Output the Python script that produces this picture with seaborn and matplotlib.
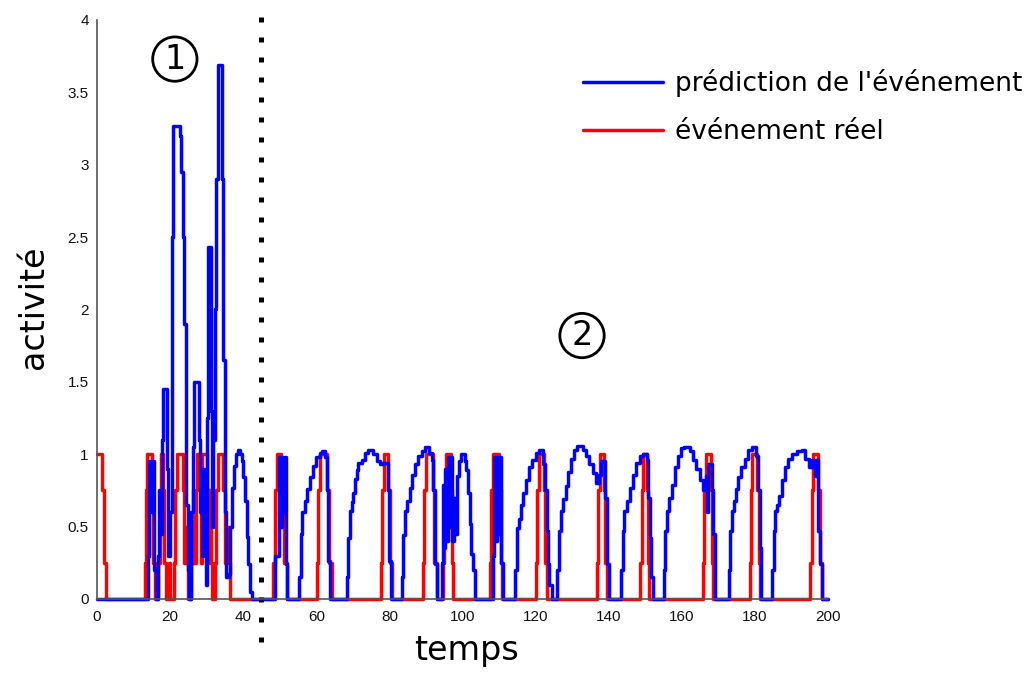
import matplotlib
matplotlib.use("Agg")
import matplotlib.pyplot as plt
import seaborn as sns

# Données (signal en escalier, temps / activité)
blue_t = [0, 14.0, 14.3, 15.0, 15.3, 15.7, 16.1,
          16.7, 17.0, 17.4, 17.7, 18.1, 19.2, 19.5, 20.0, 20.4, 20.8, 22.7, 23.0, 23.5, 23.9, 24.3, 24.9, 25.3,
          25.8, 26.2, 26.6, 27.9, 28.3, 28.7, 29.0, 29.3, 29.7, 30.0, 30.3, 31.1, 31.4, 31.8, 32.2, 32.6, 33.0,
          34.2, 34.5, 34.9, 35.3,
          36.0, 36.5, 37.0, 37.5, 38.0, 38.5, 39.2, 39.6, 40.0, 40.5, 41.0, 41.4, 41.9, 42.3,
          48.7, 49.8, 50.3, 50.6, 51.0, 51.3, 51.6, 52.1,
          55.3, 55.7, 56.2, 56.8, 57.5, 58.3, 59.1, 60.0, 60.9, 61.6, 62.5, 63.0, 63.3, 63.7,
          68.3, 68.8, 69.2, 69.7, 70.1, 70.6, 71.1, 71.5, 72.4, 73.3, 74.2, 75.6, 76.5, 77.4, 78.3, 79.5, 79.9, 80.4,
          83.4, 83.7, 84.2, 84.8, 85.5, 86.1, 87.0, 87.9, 88.8, 89.8, 90.9, 91.6, 92.0, 92.4, 92.9,
          94.4, 94.7, 95.0, 95.3, 95.6, 95.9, 96.4, 96.7, 97.2, 97.6, 98.0, 98.4, 99.0, 99.6, 100.6, 101.0,
          101.5, 102.0, 102.4, 102.9, 103.4,
          108.3, 108.7, 109.1, 109.4, 109.8, 110.1, 110.6, 111.2,
          114.4, 114.9, 115.4, 116.0, 116.6, 117.3, 118.2, 119.1, 120.0, 120.9, 122.1, 122.5, 123.0, 123.4, 123.8, 124.4,
          125.9, 126.3, 126.9, 127.5, 128.2, 128.9, 129.6, 130.4, 131.3, 132.9, 133.8, 134.7, 135.6, 136.5, 137.3,
          137.8, 139.1, 139.5, 140.0,
          143.3, 143.8, 144.3, 145.0, 145.8, 146.7, 147.6, 148.5, 149.4, 150.4, 150.8, 151.2, 151.7, 152.2,
          155.0, 155.4, 156.0, 156.6, 157.3, 158.1, 159.0, 159.9, 160.6, 162.2, 163.1, 164.0, 164.9, 165.8, 166.6,
          167.0, 167.3, 168.2, 168.6, 169.1,
          172.8, 173.2, 173.6, 174.2, 174.9, 175.5, 176.3, 177.3, 178.2, 179.2, 180.2, 180.9, 181.3, 181.7,
          184.8, 185.1, 185.5, 186.1, 186.7, 187.4, 188.2, 189.1, 190.2, 191.6, 192.8, 193.8, 194.8, 195.6, 196.4,
          196.8, 197.4, 197.9, 198.4, 200]
blue_v = [0, 0.3, 0.95, 0.6, 0.95, 0.2, 0,
          0.3, 0.75, 0.45, 1.1, 1.45, 0.9, 0.3, 0.6, 2.5, 3.27, 3.2, 2.95, 2.5, 1.9, 0.65, 0.2, 0,
          0.6, 1.05, 1.5, 1.1, 0.6, 0.3, 0.9, 0.4, 0.1, 1.25, 2.43, 1.3, 0.5, 1.1, 2.0, 2.9, 3.69,
          2.9, 1.65, 0.6, 0.15,
          0.17, 0.5, 0.77, 0.92, 1.0, 1.03, 1.0, 0.95, 0.84, 0.68, 0.43, 0.24, 0.05, 0,
          0.3, 0.98, 0.5, 0.98, 0.6, 0.98, 0.24, 0,
          0.15, 0.45, 0.6, 0.68, 0.76, 0.84, 0.92, 0.98, 1.01, 1.02, 0.98, 0.75, 0.26, 0,
          0.15, 0.42, 0.61, 0.67, 0.73, 0.83, 0.89, 0.94, 0.96, 1.01, 1.03, 1.0, 0.95, 0.93, 0.94, 0.75, 0.26, 0,
          0.15, 0.44, 0.61, 0.68, 0.77, 0.86, 0.93, 0.99, 1.02, 1.05, 1.01, 0.96, 0.75, 0.24, 0,
          0.25, 0.79, 0.35, 0.9, 0.4, 0.98, 0.5, 0.98, 0.4, 0.7, 0.45, 0.85, 0.95, 1.0, 0.95, 0.89,
          0.73, 0.52, 0.31, 0.2, 0,
          0.3, 0.98, 0.4, 0.98, 0.45, 0.98, 0.25, 0,
          0.2, 0.49, 0.55, 0.65, 0.73, 0.82, 0.91, 0.96, 1.01, 1.03, 0.93, 0.75, 0.47, 0.24, 0.1, 0,
          0.2, 0.47, 0.61, 0.69, 0.78, 0.88, 0.97, 1.03, 1.06, 1.03, 0.99, 0.93, 0.87, 0.8, 0.86,
          0.95, 0.7, 0.24, 0,
          0.2, 0.47, 0.61, 0.68, 0.77, 0.86, 0.94, 0.99, 1.0, 0.96, 0.7, 0.42, 0.15, 0,
          0.2, 0.47, 0.61, 0.7, 0.79, 0.91, 0.99, 1.04, 1.05, 1.02, 0.96, 0.9, 0.82, 0.75, 0.85,
          0.6, 0.93, 0.75, 0.45, 0,
          0.2, 0.47, 0.61, 0.68, 0.76, 0.84, 0.91, 0.97, 1.03, 1.05, 0.99, 0.75, 0.35, 0,
          0.2, 0.47, 0.61, 0.65, 0.71, 0.82, 0.91, 0.97, 1.0, 1.02, 1.03, 0.97, 0.91, 0.96, 0.85,
          0.96, 0.47, 0.24, 0, 0]

red_t = [0, 1.4, 1.9, 2.4,
         13.0, 13.3, 13.6, 15.0, 15.3, 15.8,
         16.8, 17.1, 17.4, 18.1, 18.4, 18.8,
         19.6, 20.0,
         21.0, 21.4, 21.8, 23.4, 23.8, 24.3, 24.7, 25.0,
         25.8, 26.2, 26.6, 27.0, 27.3, 28.2, 28.5, 28.8, 30.0, 30.3, 30.7, 31.1, 31.5,
         32.2, 32.6, 33.0, 34.5, 35.0, 35.6, 36.0, 36.4,
         48.2, 48.7, 49.2, 50.3, 51.2, 52.0,
         60.1, 60.6, 61.0, 62.8, 63.5, 64.3,
         77.7, 78.0, 78.4, 79.6, 80.1, 80.6,
         89.2, 89.6, 90.0, 91.8, 92.3, 92.9,
         94.7, 95.0, 95.4, 96.8, 97.1, 97.4,
         107.5, 107.9, 108.3, 110.0, 110.5, 110.9,
         120.1, 120.4, 120.9, 122.3, 122.7, 123.1,
         136.7, 137.1, 137.5, 138.6, 139.0, 139.4,
         148.6, 149.0, 149.5, 150.4, 150.7, 151.0,
         165.8, 166.2, 166.6, 168.0, 168.3, 168.6,
         178.7, 179.0, 179.3, 180.6, 181.0, 181.4,
         195.1, 195.6, 196.0, 197.4, 197.8, 198.3,
         200]
red_v = [1, 0.75, 0.25, 0,
         0.25, 0.75, 1, 0.75, 0.25, 0,
         0.25, 0.75, 1, 0.75, 0.25, 0,
         0.25, 0,
         0.25, 0.75, 1, 0.75, 0.25, 0.5, 0.25, 0,
         0.25, 0.75, 0.25, 0.75, 1, 0.75, 0.25, 1, 0.75, 0.25, 0.75, 0.25, 0,
         0.25, 0.75, 1, 0.75, 0.25, 0.5, 0.25, 0,
         0.25, 0.75, 1, 0.75, 0.25, 0,
         0.25, 0.75, 1, 0.75, 0.25, 0,
         0.25, 0.75, 1, 0.75, 0.25, 0,
         0.25, 0.75, 1, 0.75, 0.25, 0,
         0.25, 0.75, 1, 0.75, 0.25, 0,
         0.25, 0.75, 1, 0.75, 0.25, 0,
         0.25, 0.75, 1, 0.75, 0.25, 0,
         0.25, 0.75, 1, 0.75, 0.25, 0,
         0.25, 0.75, 1, 0.75, 0.25, 0,
         0.25, 0.75, 1, 0.75, 0.25, 0,
         0.25, 0.75, 1, 0.75, 0.25, 0,
         0.25, 0.75, 1, 0.75, 0.25, 0,
         0]

x_ticks = [0, 20, 40, 60, 80, 100, 120, 140, 160, 180, 200]
y_ticks = [0, 0.5, 1, 1.5, 2, 2.5, 3, 3.5, 4]
y_ticklabels = ["0", "0.5", "1", "1.5", "2", "2.5", "3", "3.5", "4"]

label_pred = "prédiction de l'événement"
label_reel = "événement réel"
t_separation = 44.9

sns.set_style("white")
plt.rcParams['font.family'] = ['DejaVu Sans']
plt.rcParams['text.color'] = 'black'
plt.rcParams['axes.labelcolor'] = 'black'

fig = plt.figure(figsize=(10.34, 6.73), dpi=100)
ax = fig.add_axes([97 / 1034, 74 / 673, 731 / 1034, 579 / 673])

sns.lineplot(x=red_t, y=red_v, drawstyle='steps-post', estimator=None, sort=False,
             color='#ff0000', lw=2.5, label=label_reel, ax=ax)
sns.lineplot(x=blue_t, y=blue_v, drawstyle='steps-post', estimator=None, sort=False,
             color='#0000ff', lw=2.5, label=label_pred, ax=ax)
for line in ax.lines:
    line.set_clip_on(False)

ax.set_xlim(0, 200)
ax.set_ylim(0, 4)
ax.set_xticks(x_ticks)
ax.set_yticks(y_ticks)
ax.set_yticklabels(y_ticklabels)
tick_font = ['Liberation Sans Narrow', 'Liberation Sans', 'DejaVu Sans']
for lab in ax.get_xticklabels() + ax.get_yticklabels():
    lab.set_family(tick_font)
    lab.set_fontsize(11)
    lab.set_color('#111111')
ax.tick_params(axis='x', direction='in', length=5, width=1, color='#444444', pad=8)
ax.tick_params(axis='y', direction='in', length=5, width=1, color='#444444', pad=6)
for side in ['top', 'right']:
    ax.spines[side].set_visible(False)
for side in ['left', 'bottom']:
    ax.spines[side].set_color('#555555')
    ax.spines[side].set_linewidth(1.2)

# ligne pointillée de séparation des deux phases
ax.axvline(t_separation, ymin=-0.074, ymax=1.02, color='black', lw=3.6,
           linestyle=(0, (1, 3)), clip_on=False)

ax.set_xlabel('temps', fontsize=24)
ax.set_ylabel('activité', fontsize=24)
ax.xaxis.set_label_coords(0.506, -0.06)
ax.yaxis.set_label_coords(-0.064, 0.504)

# numéros des phases entourés
circle = dict(boxstyle='circle,pad=0.17', fc='none', ec='black', lw=2)
ax.text(21.3, 3.73, '1', fontsize=24, ha='center', va='center', bbox=circle)
ax.text(132.7, 1.82, '2', fontsize=24, ha='center', va='center', bbox=circle)

handles, labels = ax.get_legend_handles_labels()
ax.legend(handles[::-1], labels[::-1], loc='upper left',
          bbox_to_anchor=(583 / 1034, 1 - 69 / 673), bbox_transform=fig.transFigure,
          frameon=False, fontsize=19, handlelength=3.05, handletextpad=0.45,
          labelspacing=0.85, borderpad=0, borderaxespad=0)

fig.savefig('out.png', dpi=100)
